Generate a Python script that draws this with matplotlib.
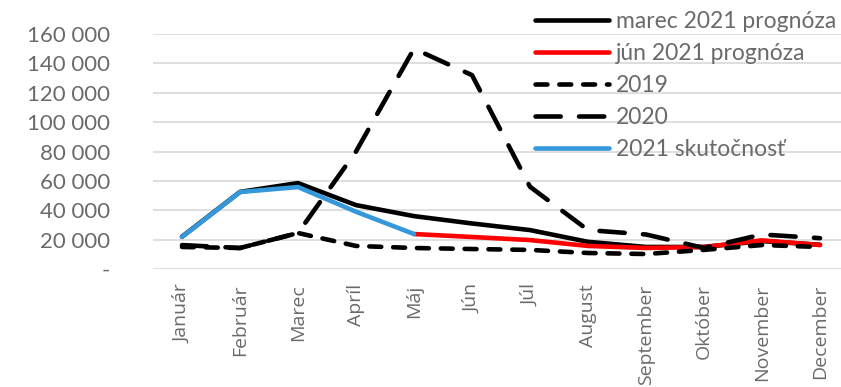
import numpy as np
import matplotlib.pyplot as plt

months = ['Január', 'Február', 'Marec', 'Apríl', 'Máj', 'Jún', 'Júl',
          'August', 'September', 'Október', 'November', 'December']

nan = np.nan
marec_2021 = [22000, 52500, 58500, 43500, 36000, 31000, 26500, 18500, 15000, 15000, 19000, 16500]
jun_2021 = [nan, nan, nan, nan, 23800, 21800, 19700, 15700, 14300, 15000, 19500, 16300]
y2019 = [15000, 14300, 24500, 15700, 14300, 13600, 13000, 10900, 10200, 13000, 16300, 15000]
y2020 = [16300, 14300, 24500, 80000, 150000, 132000, 56000, 26500, 23500, 14300, 23500, 21000]
skut_2021 = [21800, 52400, 55800, 39000, 23800, nan, nan, nan, nan, nan, nan, nan]

plt.rcParams['font.family'] = ['Lato', 'DejaVu Sans']
gray = '#6a6a6a'

fig = plt.figure(figsize=(8.41, 3.87), dpi=100)
ax = fig.add_axes([153 / 841, 1 - 269 / 387, 696 / 841, 235 / 387])

x = np.arange(len(months))
lw = 3.3
ax.plot(x, marec_2021, color='black', lw=lw, solid_capstyle='round', label='marec 2021 prognóza')
ax.plot(x, jun_2021, color='#ff0000', lw=lw, solid_capstyle='round', label='jún 2021 prognóza')
ax.plot(x, y2019, color='black', lw=lw, dashes=(2.6, 2.6), dash_capstyle='round', label='2019')
ax.plot(x, y2020, color='black', lw=lw, dashes=(5.5, 4.0), dash_capstyle='round', label='2020')
ax.plot(x, skut_2021, color='#3498db', lw=lw, solid_capstyle='round', label='2021 skutočnosť')

ax.set_xlim(-0.5, len(months) - 0.5)
ax.set_ylim(0, 160000)
yt = np.arange(0, 160001, 20000)
ax.set_yticks(yt)
ax.set_yticklabels(['-'] + [f'{v:,}'.replace(',', ' ') for v in yt[1:]])
ax.set_xticks(x)
ax.set_xticklabels(months, rotation=90, va='top')
ax.tick_params(length=0, colors=gray)
ax.tick_params(axis='y', labelsize=16, pad=31)
ax.tick_params(axis='x', pad=11)
for t in ax.get_xticklabels():
    t.set_fontfamily(['Open Sans', 'DejaVu Sans'])
    t.set_fontsize(14)
ax.grid(axis='y', color='#d9d9d9', lw=1.2)
ax.set_axisbelow(True)
for s in ax.spines.values():
    s.set_visible(False)

leg = ax.legend(loc='upper left', bbox_to_anchor=(533 / 841, 1 - 9 / 387), bbox_transform=fig.transFigure,
                frameon=False, fontsize=16.5, handlelength=3.2, handletextpad=0.3,
                labelspacing=0.48, borderaxespad=0, borderpad=0.1)
for t in leg.get_texts():
    t.set_color(gray)

fig.savefig('out.png', dpi=100)
